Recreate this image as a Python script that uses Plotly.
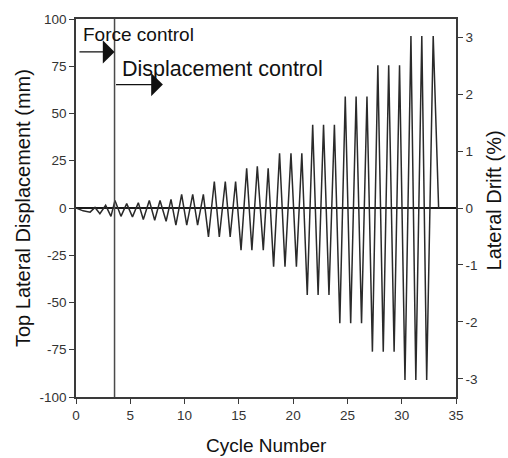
import plotly.graph_objects as go

# Turning points of the loading history (cycle number, top lateral displacement in mm)
cycle = [0, 0.65, 1.3, 1.75, 2.2, 2.73, 3.22,
         3.59, 4.14, 4.67, 5.2, 5.74,
         6.2, 6.75, 7.25, 7.74, 8.3, 8.75,
         9.2, 9.73, 10.2, 10.75, 11.2, 11.73,
         12.2, 12.74, 13.2, 13.75, 14.2, 14.7,
         15.2, 15.72, 16.2, 16.7, 17.25, 17.7,
         18.2, 18.75, 19.25, 19.8, 20.3, 20.8,
         21.3, 21.8, 22.3, 22.8, 23.3, 23.8,
         24.3, 24.8, 25.3, 25.8, 26.3, 26.8,
         27.3, 27.8, 28.3, 28.8, 29.3, 29.8,
         30.3, 30.85, 31.3, 31.85, 32.3, 32.9,
         33.4]
displacement = [0, -1.5, -2.2, 0.3, -3.0, 1.4, -4.4,
                4.0, -4.4, 2.3, -4.7, 2.8,
                -6.1, 4.0, -6.5, 4.0, -7.0, 4.6,
                -9.1, 7.2, -9.1, 7.2, -9.1, 7.2,
                -15.3, 14.0, -15.3, 14.0, -15.3, 14.0,
                -22.3, 21.0, -22.3, 22.0, -22.3, 21.0,
                -31.0, 29.0, -31.0, 29.0, -31.0, 29.0,
                -46.0, 44.0, -46.0, 44.0, -46.0, 44.0,
                -61.0, 59.0, -61.0, 59.0, -61.0, 59.0,
                -76.0, 75.5, -76.0, 75.5, -76.0, 75.5,
                -91.0, 91.0, -91.0, 91.0, -91.0, 91.0,
                0]

x_ticks = [0, 5, 10, 15, 20, 25, 30, 35]
y_ticks = [-100, -75, -50, -25, 0, 25, 50, 75, 100]
drift_ticks = [-3, -2, -1, 0, 1, 2, 3]
drift_per_mm = 1 / 30.15          # % drift per mm of top displacement
control_switch = 3.55             # cycle at which displacement control starts

FONT = "Liberation Sans, Arial, sans-serif"
AX = "#3a3a3a"
TICKFONT = dict(size=13.5, color="#333")

fig = go.Figure()
fig.add_trace(go.Scatter(x=cycle, y=displacement, mode="lines",
                         line=dict(color="#2a2a2a", width=1.5),
                         showlegend=False, hoverinfo="skip"))
# invisible trace to activate the secondary axis
fig.add_trace(go.Scatter(x=[None], y=[None], yaxis="y2", showlegend=False))

ymin, ymax = -100, 100
fig.update_layout(
    width=508, height=458,
    margin=dict(l=76, r=52, t=17, b=61),
    paper_bgcolor="white", plot_bgcolor="white",
    font=dict(family=FONT, color="#222"),
    xaxis=dict(range=[0, 35], tickvals=x_ticks,
               ticktext=[str(v) for v in x_ticks], ticks="outside", ticklen=5,
               tickwidth=1.2, tickcolor=AX, showline=True, linecolor=AX,
               linewidth=1.5, mirror=True, showgrid=False, zeroline=False,
               tickfont=TICKFONT),
    yaxis=dict(range=[ymin, ymax], tickvals=y_ticks,
               ticktext=[str(v) for v in y_ticks], ticks="outside",
               ticklen=5, tickwidth=1.2, tickcolor=AX, showline=True,
               linecolor=AX, linewidth=1.5, showgrid=False, zeroline=True,
               zerolinecolor="#1a1a1a", zerolinewidth=1.5,
               tickfont=TICKFONT),
    yaxis2=dict(range=[ymin * drift_per_mm, ymax * drift_per_mm],
                tickvals=drift_ticks, ticktext=[str(v) for v in drift_ticks],
                overlaying="y", side="right",
                ticks="outside", ticklen=5, tickwidth=1.2, tickcolor=AX,
                showline=True, linecolor=AX, linewidth=1.5, showgrid=False,
                zeroline=False, tickfont=TICKFONT),
)

# vertical line marking the switch from force to displacement control
fig.add_shape(type="line", xref="x", yref="y", x0=control_switch,
              x1=control_switch, y0=ymin, y1=ymax,
              line=dict(color="#4a4a4a", width=1.5))

# arrows
fig.add_annotation(x=control_switch, y=82.6, ax=0.18, ay=82.6, xref="x",
                   yref="y", axref="x", ayref="y", text="", showarrow=True,
                   arrowhead=1, arrowsize=3, arrowwidth=1.3,
                   arrowcolor="#111")
fig.add_annotation(x=8.0, y=65.3, ax=control_switch, ay=65.3, xref="x",
                   yref="y", axref="x", ayref="y", text="", showarrow=True,
                   arrowhead=1, arrowsize=3, arrowwidth=1.3,
                   arrowcolor="#111")

# text labels
fig.add_annotation(x=0.42, y=92, xref="x", yref="y", text="Force control",
                   showarrow=False, xanchor="left", yanchor="middle",
                   font=dict(size=19, color="#111"))
fig.add_annotation(x=4.05, y=73.5, xref="x", yref="y",
                   text="Displacement control", showarrow=False,
                   xanchor="left", yanchor="middle",
                   font=dict(size=21.5, color="#111"))

# axis titles
fig.add_annotation(x=0.5, y=0, xref="paper", yref="paper", yshift=-48,
                   text="Cycle Number", showarrow=False, xanchor="center",
                   yanchor="middle", font=dict(size=19, color="#111"))
fig.add_annotation(x=0, y=0.5, xref="paper", yref="paper", xshift=-53,
                   text="Top Lateral Displacement (mm)", showarrow=False,
                   textangle=-90, xanchor="center", yanchor="middle",
                   font=dict(size=20, color="#111"))
fig.add_annotation(x=1, y=0.52, xref="paper", yref="paper", xshift=38,
                   text="Lateral Drift (%)", showarrow=False,
                   textangle=-90, xanchor="center", yanchor="middle",
                   font=dict(size=20, color="#111"))

fig.write_html("out.html")
